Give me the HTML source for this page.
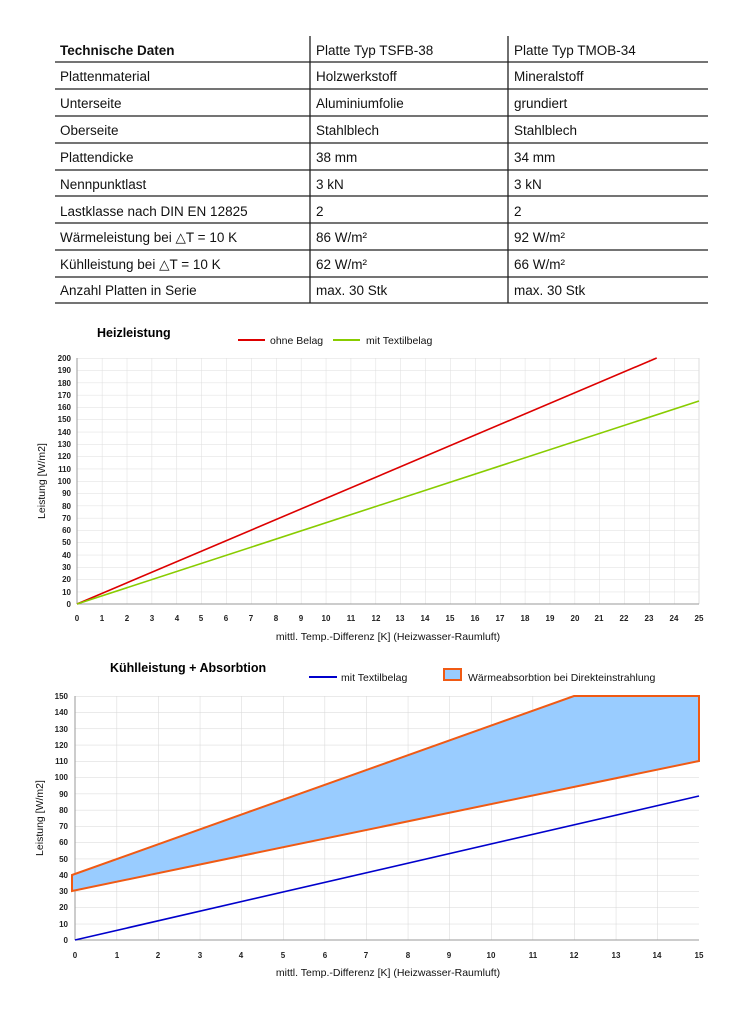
<!DOCTYPE html>
<html><head><meta charset="utf-8"><style>
body{margin:0;background:#fff;}
svg{display:block;font-family:"Liberation Sans",sans-serif;}
.t{font-size:13.5px;fill:#111;}
.yl{font-size:8px;font-weight:bold;fill:#222;text-anchor:end;}
.xl{font-size:8px;font-weight:bold;fill:#222;text-anchor:middle;}
.lg{font-size:10.5px;fill:#111;}
</style></head><body>
<svg width="750" height="1025" viewBox="0 0 750 1025">
<defs>
<pattern id="g1" x="77" y="358" width="24.88" height="12.3" patternUnits="userSpaceOnUse"><path d="M0 0H24.88M0 0V12.3" stroke="#ddd" stroke-width="1" fill="none"/></pattern>
<pattern id="g2" x="75" y="696" width="41.6" height="16.27" patternUnits="userSpaceOnUse"><path d="M0 0H41.6M0 0V16.27" stroke="#d6d6d6" stroke-width="1" fill="none"/></pattern>
</defs>
<!-- table -->
<g stroke="#222" stroke-width="1.3">
<line x1="55" y1="62" x2="708" y2="62"/><line x1="55" y1="89" x2="708" y2="89"/><line x1="55" y1="116" x2="708" y2="116"/><line x1="55" y1="143" x2="708" y2="143"/><line x1="55" y1="170" x2="708" y2="170"/><line x1="55" y1="196" x2="708" y2="196"/><line x1="55" y1="223" x2="708" y2="223"/><line x1="55" y1="250" x2="708" y2="250"/><line x1="55" y1="277" x2="708" y2="277"/><line x1="55" y1="303" x2="708" y2="303"/>
<line x1="310" y1="36" x2="310" y2="303"/><line x1="508" y1="36" x2="508" y2="303"/>
</g>
<g class="t">
<text x="60" y="55" font-weight="bold">Technische Daten</text><text x="316" y="55">Platte Typ TSFB-38</text><text x="514" y="55">Platte Typ TMOB-34</text>
<text x="60" y="81">Plattenmaterial</text><text x="316" y="81">Holzwerkstoff</text><text x="514" y="81">Mineralstoff</text>
<text x="60" y="108">Unterseite</text><text x="316" y="108">Aluminiumfolie</text><text x="514" y="108">grundiert</text>
<text x="60" y="135">Oberseite</text><text x="316" y="135">Stahlblech</text><text x="514" y="135">Stahlblech</text>
<text x="60" y="162">Plattendicke</text><text x="316" y="162">38 mm</text><text x="514" y="162">34 mm</text>
<text x="60" y="189">Nennpunktlast</text><text x="316" y="189">3 kN</text><text x="514" y="189">3 kN</text>
<text x="60" y="216">Lastklasse nach DIN EN 12825</text><text x="316" y="216">2</text><text x="514" y="216">2</text>
<text x="60" y="242">Wärmeleistung bei △T = 10 K</text><text x="316" y="242">86 W/m²</text><text x="514" y="242">92 W/m²</text>
<text x="60" y="269">Kühlleistung bei △T = 10 K</text><text x="316" y="269">62 W/m²</text><text x="514" y="269">66 W/m²</text>
<text x="60" y="295">Anzahl Platten in Serie</text><text x="316" y="295">max. 30 Stk</text><text x="514" y="295">max. 30 Stk</text>
</g>
<!-- chart 1 -->
<text x="97" y="337" font-size="12.5" font-weight="bold">Heizleistung</text>
<line x1="238" y1="340" x2="265" y2="340" stroke="#d00" stroke-width="2"/><text class="lg" x="270" y="344">ohne Belag</text>
<line x1="333" y1="340" x2="360" y2="340" stroke="#8c0" stroke-width="2"/><text class="lg" x="366" y="344">mit Textilbelag</text>
<rect x="77" y="358" width="622" height="246" fill="url(#g1)"/>
<line x1="699" y1="358" x2="699" y2="604" stroke="#ddd"/>
<line x1="77" y1="358" x2="77" y2="604" stroke="#999"/><line x1="77" y1="604" x2="699" y2="604" stroke="#999"/>
<line x1="77" y1="604" x2="656.7" y2="358" stroke="#d00" stroke-width="1.6"/>
<line x1="77" y1="604" x2="699" y2="401" stroke="#8c0" stroke-width="1.6"/>
<g class="yl">
<text x="71" y="607">0</text><text x="71" y="595">10</text><text x="71" y="582">20</text><text x="71" y="570">30</text><text x="71" y="558">40</text><text x="71" y="545">50</text><text x="71" y="533">60</text><text x="71" y="521">70</text><text x="71" y="509">80</text><text x="71" y="496">90</text><text x="71" y="484">100</text><text x="71" y="472">110</text><text x="71" y="459">120</text><text x="71" y="447">130</text><text x="71" y="435">140</text><text x="71" y="422">150</text><text x="71" y="410">160</text><text x="71" y="398">170</text><text x="71" y="386">180</text><text x="71" y="373">190</text><text x="71" y="361">200</text>
</g>
<g class="xl">
<text x="77" y="621">0</text><text x="102" y="621">1</text><text x="127" y="621">2</text><text x="152" y="621">3</text><text x="177" y="621">4</text><text x="201" y="621">5</text><text x="226" y="621">6</text><text x="251" y="621">7</text><text x="276" y="621">8</text><text x="301" y="621">9</text><text x="326" y="621">10</text><text x="351" y="621">11</text><text x="376" y="621">12</text><text x="400" y="621">13</text><text x="425" y="621">14</text><text x="450" y="621">15</text><text x="475" y="621">16</text><text x="500" y="621">17</text><text x="525" y="621">18</text><text x="550" y="621">19</text><text x="575" y="621">20</text><text x="599" y="621">21</text><text x="624" y="621">22</text><text x="649" y="621">23</text><text x="674" y="621">24</text><text x="699" y="621">25</text>
</g>
<text class="lg" x="388" y="640" text-anchor="middle">mittl. Temp.-Differenz [K] (Heizwasser-Raumluft)</text>
<text class="lg" x="0" y="0" text-anchor="middle" transform="translate(45,481) rotate(-90)">Leistung [W/m2]</text>
<!-- chart 2 -->
<text x="110" y="672" font-size="12.5" font-weight="bold">Kühlleistung + Absorbtion</text>
<line x1="309" y1="677" x2="337" y2="677" stroke="#00c" stroke-width="2"/><text class="lg" x="341" y="681">mit Textilbelag</text>
<rect x="444" y="669" width="17" height="11" fill="#99ccff" stroke="#f05a14" stroke-width="2"/><text class="lg" x="468" y="681">Wärmeabsorbtion bei Direkteinstrahlung</text>
<rect x="75" y="696" width="624" height="244" fill="url(#g2)"/>
<line x1="75" y1="696" x2="75" y2="940" stroke="#999"/><line x1="75" y1="940" x2="699" y2="940" stroke="#999"/>
<polygon points="72,891 72,875 574,696 699,696 699,761" fill="#99ccff" stroke="#f05a14" stroke-width="2"/>
<line x1="75" y1="940" x2="699" y2="796" stroke="#00c" stroke-width="1.6"/>
<g class="yl">
<text x="68" y="943">0</text><text x="68" y="927">10</text><text x="68" y="910">20</text><text x="68" y="894">30</text><text x="68" y="878">40</text><text x="68" y="862">50</text><text x="68" y="845">60</text><text x="68" y="829">70</text><text x="68" y="813">80</text><text x="68" y="797">90</text><text x="68" y="780">100</text><text x="68" y="764">110</text><text x="68" y="748">120</text><text x="68" y="732">130</text><text x="68" y="715">140</text><text x="68" y="699">150</text>
</g>
<g class="xl">
<text x="75" y="958">0</text><text x="117" y="958">1</text><text x="158" y="958">2</text><text x="200" y="958">3</text><text x="241" y="958">4</text><text x="283" y="958">5</text><text x="325" y="958">6</text><text x="366" y="958">7</text><text x="408" y="958">8</text><text x="449" y="958">9</text><text x="491" y="958">10</text><text x="533" y="958">11</text><text x="574" y="958">12</text><text x="616" y="958">13</text><text x="657" y="958">14</text><text x="699" y="958">15</text>
</g>
<text class="lg" x="388" y="976" text-anchor="middle">mittl. Temp.-Differenz [K] (Heizwasser-Raumluft)</text>
<text class="lg" x="0" y="0" text-anchor="middle" transform="translate(43,818) rotate(-90)">Leistung [W/m2]</text>
</svg>
</body></html>
